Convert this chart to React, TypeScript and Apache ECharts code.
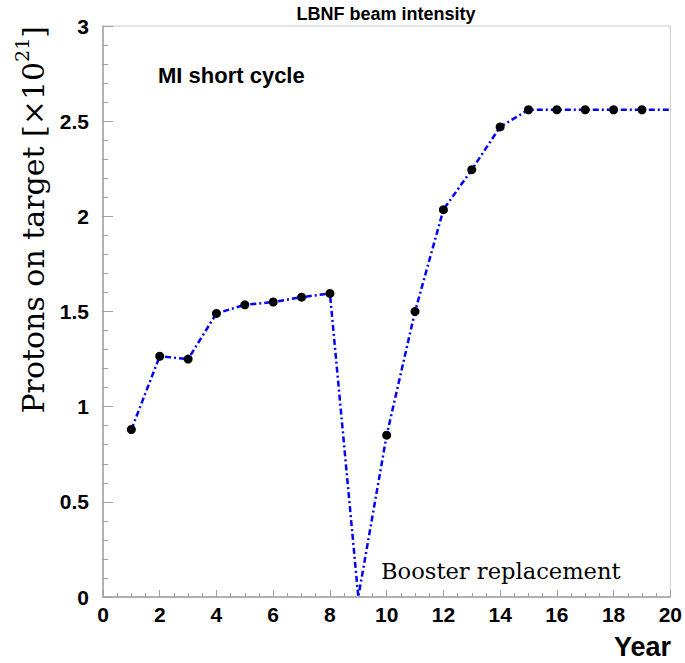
import React, { useEffect, useRef } from "react";
import * as echarts from "echarts";

const years = [1, 2, 3, 4, 5, 6, 7, 8, 9, 10, 11, 12, 13, 14, 15, 16, 17, 18, 19, 20];
const protons = [0.88, 1.265, 1.25, 1.49, 1.535, 1.55, 1.575, 1.595, 0, 0.85, 1.5, 2.035, 2.245, 2.47, 2.56, 2.56, 2.56, 2.56, 2.56, 2.56];
const noMarkerYears = [9, 20];

const xTicks = { min: 0, max: 20, interval: 2 };
const yTicks = { min: 0, max: 3, interval: 0.5 };

const titleText = "LBNF beam intensity";
const noteText = "MI short cycle";
const eventText = "Booster replacement";
const xName = "Year";
const yName = "Protons on target";

export default function App() {
  const ref = useRef<HTMLDivElement>(null);
  useEffect(() => {
    if (!ref.current) return;
    const chart = echarts.init(ref.current, undefined, { renderer: "svg" });
    const lineData = years.map((y, i) => [y, protons[i]]);
    const markerData = years
      .map((y, i) => [y, protons[i]])
      .filter((p) => !noMarkerYears.includes(p[0]));
    chart.setOption({
      animation: false,
      backgroundColor: "#ffffff",
      grid: {
        left: 103,
        right: 13,
        top: 26,
        bottom: 66,
        show: true,
        borderColor: "#c8c8c8",
        borderWidth: 1,
      },
      xAxis: {
        type: "value",
        min: xTicks.min,
        max: xTicks.max,
        interval: xTicks.interval,
        axisLine: { show: true, lineStyle: { color: "#a0a0a0", width: 1.5 } },
        axisTick: { show: true, inside: true, length: 7, lineStyle: { color: "#a0a0a0" } },
        minorTick: { show: true, splitNumber: 4, length: 4, lineStyle: { color: "#a0a0a0" } },
        splitLine: { show: false },
        axisLabel: {
          margin: 7,
          fontFamily: "Liberation Sans",
          fontWeight: "bold",
          fontSize: 21,
          color: "#000",
        },
      },
      yAxis: {
        type: "value",
        min: yTicks.min,
        max: yTicks.max,
        interval: yTicks.interval,
        axisLine: { show: true, lineStyle: { color: "#a0a0a0", width: 1.5 } },
        axisTick: { show: true, inside: true, length: 10, lineStyle: { color: "#a0a0a0" } },
        minorTick: { show: true, splitNumber: 5, length: 5, lineStyle: { color: "#a0a0a0" } },
        splitLine: { show: false },
        axisLabel: {
          margin: 14,
          fontFamily: "Liberation Sans",
          fontWeight: "bold",
          fontSize: 21,
          color: "#000",
        },
      },
      series: [
        {
          type: "line",
          data: lineData,
          showSymbol: false,
          symbol: "none",
          lineStyle: { color: "#0000ff", width: 2.5, type: [6, 3, 2, 3] },
          z: 2,
        },
        {
          type: "scatter",
          data: markerData,
          symbol: "circle",
          symbolSize: 9,
          itemStyle: { color: "#000", opacity: 1 },
          z: 3,
        },
      ],
      graphic: [
        {
          type: "text",
          x: 386,
          y: 14,
          style: {
            text: titleText,
            fontFamily: "Liberation Sans",
            fontWeight: "bold",
            fontSize: 18,
            fill: "#000",
            textAlign: "center",
            textVerticalAlign: "middle",
          },
        },
        {
          type: "text",
          x: 158,
          y: 75,
          style: {
            text: noteText,
            fontFamily: "Liberation Sans",
            fontWeight: "bold",
            fontSize: 22,
            fill: "#000",
            textAlign: "left",
            textVerticalAlign: "middle",
          },
        },
        {
          type: "text",
          x: 381,
          y: 571,
          style: {
            text: eventText,
            fontFamily: "DejaVu Serif",
            fontSize: 22.6,
            fill: "#000",
            textAlign: "left",
            textVerticalAlign: "middle",
          },
        },
        {
          type: "text",
          x: 671,
          y: 647,
          style: {
            text: xName,
            fontFamily: "Liberation Sans",
            fontWeight: "bold",
            fontSize: 27,
            fill: "#000",
            textAlign: "right",
            textVerticalAlign: "middle",
          },
        },
        {
          type: "text",
          x: 33,
          y: 26,
          rotation: Math.PI / 2,
          style: {
            text: "{b|" + yName + " [×10}{s|21}{b|]}",
            textAlign: "right",
            textVerticalAlign: "middle",
            fill: "#000",
            rich: {
              b: { fontFamily: "DejaVu Serif", fontSize: 30, lineHeight: 42, fill: "#000", verticalAlign: "middle" },
              s: { fontFamily: "DejaVu Serif", fontSize: 19, lineHeight: 19, fill: "#000", verticalAlign: "top" },
            },
          },
        },
      ],
    });
    return () => chart.dispose();
  }, []);
  return (
    <div
      ref={ref}
      style={{ position: "fixed", left: 0, top: 0, width: 685, height: 663, background: "#fff" }}
    />
  );
}
